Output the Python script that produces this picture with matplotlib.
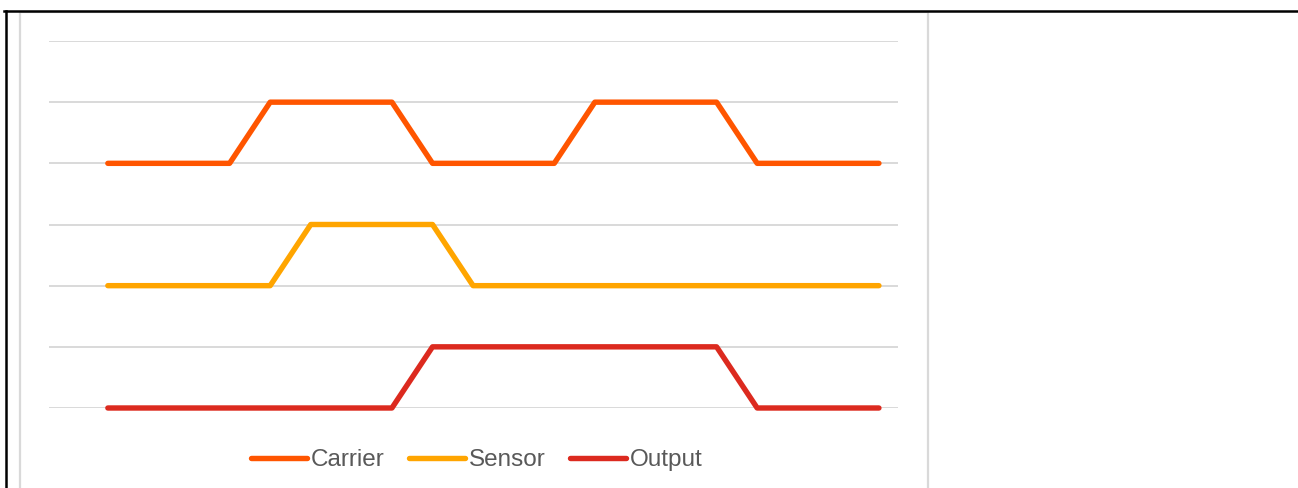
import matplotlib.pyplot as plt
from matplotlib.lines import Line2D
from matplotlib.patches import Rectangle

# data
steps = list(range(20))
carrier = [4, 4, 4, 4, 5, 5, 5, 5, 4, 4, 4, 4, 5, 5, 5, 5, 4, 4, 4, 4]
sensor = [2, 2, 2, 2, 2, 3, 3, 3, 3, 2, 2, 2, 2, 2, 2, 2, 2, 2, 2, 2]
output = [0, 0, 0, 0, 0, 0, 0, 0, 1, 1, 1, 1, 1, 1, 1, 1, 0, 0, 0, 0]
names = ['Carrier', 'Sensor', 'Output']
colors = ['#FF5500', '#FFA500', '#DC2A1F']

W, H = 1298, 488
fig = plt.figure(figsize=(W / 100, H / 100), dpi=100)
plt.rcParams['font.family'] = ['Liberation Sans', 'DejaVu Sans']

# chart frame
fig.add_artist(Rectangle((19.5 / W, -0.05), (928 - 19.5) / W, 1.05 - 11.5 / H,
                         transform=fig.transFigure, fill=False,
                         edgecolor='#D9D9D9', linewidth=1.6))
# black outer lines
fig.add_artist(Line2D([4 / W, 1], [1 - 10.5 / H, 1 - 10.5 / H],
                      transform=fig.transFigure, color='black', linewidth=1.8))
fig.add_artist(Line2D([5.5 / W, 5.5 / W], [0, 1 - 10.5 / H],
                      transform=fig.transFigure, color='black', linewidth=1.8))

ax = fig.add_axes([49 / W, (H - 408) / H, 849 / W, 367 / H])
for vals, name, c in zip([carrier, sensor, output], names, colors):
    ax.plot(steps, vals, color=c, linewidth=3.9, label=name,
            solid_capstyle='round', solid_joinstyle='round', clip_on=False, zorder=3)

ax.set_xlim(-1.45, 19.47)
ax.set_ylim(0, 6)
ax.set_yticks(range(7))
ax.grid(axis='y', color='#D9D9D9', linewidth=1.4)
ax.tick_params(left=False, bottom=False, labelleft=False, labelbottom=False)
for s in ax.spines.values():
    s.set_visible(False)

leg = fig.legend(loc='center', bbox_to_anchor=(477 / W, 1 - 460 / H), ncol=3,
                 frameon=False, fontsize=17.5, handlelength=2.3, handletextpad=0.16,
                 columnspacing=1.0, labelcolor='#595959')

fig.savefig('out.png', dpi=100)
